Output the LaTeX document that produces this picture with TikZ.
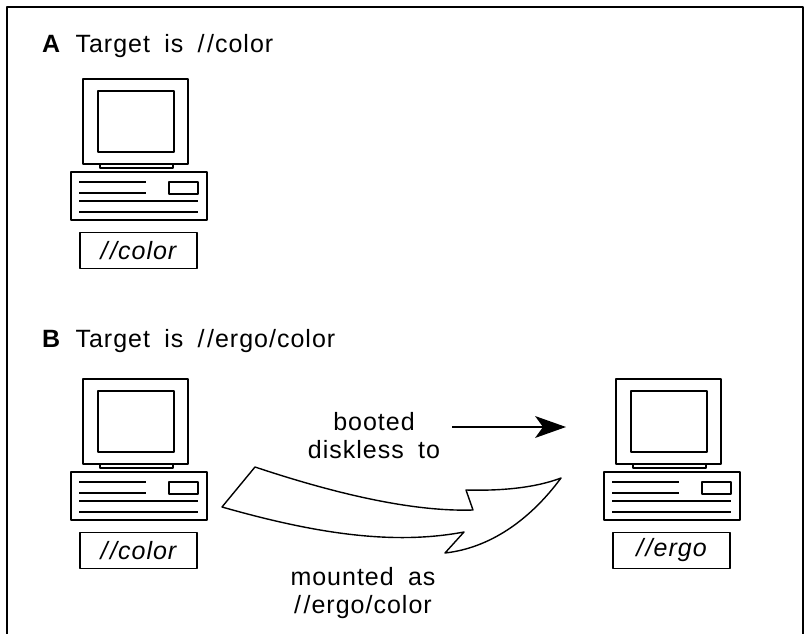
\documentclass[tikz,border=0pt]{standalone}
\usepackage{fontspec}
\setmainfont[LetterSpace=4,WordSpace=1.8]{Liberation Sans}
\newcommand\slashes{/\kern2.5pt/}
\tikzset{
    outline/.style={draw=black,line width=1.4pt,line join=round},
    strip/.style={black,line width=1.4pt},
    caption/.style={anchor=base west,inner sep=0pt,font=\fontsize{25}{28}\selectfont},
    note/.style={align=center,inner sep=0pt,font=\fontsize{25}{28}\selectfont},
    tag/.style={outline,fill=white,minimum width=117pt,minimum height=36pt,inner sep=0pt,font=\fontsize{25}{28}\selectfont\itshape}
}
\begin{document}
\begin{tikzpicture}[x=1pt,y=-1pt]
    \useasboundingbox (0,0) rectangle (804,634);
    % frame, open at the foot
    \draw[outline] (7,634) -- (7,7) -- (803,7) -- (803,634);
    \node[caption] (capA) at (42,53) {\textbf{A} Target is \slashes color};
    \node[caption] (capB) at (42,347) {\textbf{B} Target is \slashes ergo/color};
    % the three computers
    \foreach \cname/\dx/\dy/\lbl in {one/0/0/{\slashes color},two/0/300/{\slashes color},three/533/300/{\slashes ergo}} {
        \begin{scope}[shift={(\dx,\dy)}]
            \draw[outline] (83,79) rectangle (188,164);
            \draw[outline] (98,91) rectangle (174,152);
            \draw[outline] (100,164) rectangle (173,168);
            \draw[outline] (71,172) rectangle (207,220);
            \draw[outline] (169,182) rectangle (198,194);
            \foreach \yy in {182,193} {
                \draw[strip] (79,\yy) -- (146,\yy);
            }
            \foreach \yy in {201,212} {
                \draw[strip] (79,\yy) -- (198,\yy);
            }
            \node[tag] (\cname) at (138.5,250.5) {\lbl};
        \end{scope}
    }
    \node[note] (booted) at (374,436) {booted\\diskless to};
    \node[note] (mounted) at (363,593) {mounted as\\\slashes ergo/color};
    \coordinate (bootfrom) at (452,427);
    \coordinate (bootto) at (566,427);
    \draw[outline] (bootfrom) -- (545,427);
    \fill (bootto) -- (535,416) -- (543,427) -- (535,438) -- cycle;
    % the big bent arrow
    \draw[outline] (255,467)
        .. controls (330,492) and (410,512) .. (473,510)
        -- (466,490)
        .. controls (500,491) and (535,488) .. (561,478)
        .. controls (530,520) and (490,548) .. (445,553)
        -- (464,532)
        .. controls (390,546) and (310,532) .. (222,507)
        -- cycle;
\end{tikzpicture}
\end{document}
